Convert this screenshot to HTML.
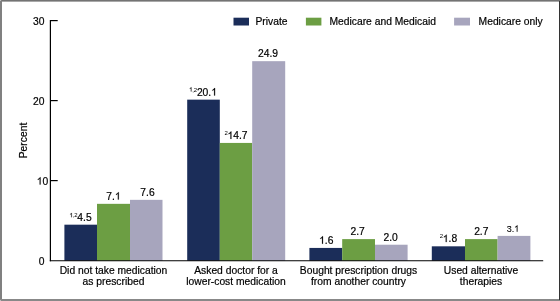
<!DOCTYPE html>
<html><head><meta charset="utf-8"><style>
html,body{margin:0;padding:0;background:#fff;}
body{width:560px;height:301px;overflow:hidden;position:relative;}
svg{position:absolute;left:0;top:0;display:block;will-change:transform;}
text{font-family:"Liberation Sans",sans-serif;font-size:10.3px;fill:#000;stroke:#000;stroke-width:0.2px;}
.sup{font-size:6px;stroke-width:0;letter-spacing:-0.2px;}
.h{fill:none;stroke:none;}
</style></head><body>
<svg width="560" height="301" viewBox="0 0 560 301">
<!-- border -->
<rect x="0" y="0" width="560" height="1" fill="#737373"/>
<rect x="0" y="1" width="559" height="1" fill="#a8a8a8"/>
<rect x="0" y="0" width="2" height="301" fill="#808080"/>
<rect x="0" y="299" width="559" height="2" fill="#888888"/>
<rect x="559" y="1" width="1" height="299" fill="#333333"/>
<rect x="559" y="300" width="1" height="1" fill="#888888"/>
<rect x="0" y="0" width="1" height="1" fill="#c0c0c0"/>
<rect x="0" y="300" width="1" height="1" fill="#c0c0c0"/>

<!-- bars -->
<g fill="#1b2d59">
<rect x="64.4" y="224.68" width="32.6" height="36.07"/>
<rect x="187.2" y="99.65" width="32.6" height="161.10"/>
<rect x="309.4" y="247.93" width="32.8" height="12.82"/>
<rect x="431.8" y="246.32" width="33.2" height="14.43"/>
</g>
<g fill="#6c9e43">
<rect x="97" y="203.84" width="33" height="56.91"/>
<rect x="219.8" y="142.93" width="32.4" height="117.82"/>
<rect x="342.2" y="239.11" width="32.8" height="21.64"/>
<rect x="465" y="239.11" width="32.6" height="21.64"/>
</g>
<g fill="#a7a5bd">
<rect x="130" y="199.84" width="32.5" height="60.91"/>
<rect x="252.2" y="61.18" width="33" height="199.57"/>
<rect x="375" y="244.72" width="32.6" height="16.03"/>
<rect x="497.6" y="235.90" width="32.8" height="24.85"/>
</g>

<!-- axes -->
<g stroke="#000" stroke-width="1.2" fill="none">
<line x1="50.4" y1="20" x2="50.4" y2="261.2"/>
<line x1="50" y1="20.6" x2="57.7" y2="20.6"/>
<line x1="50" y1="100.6" x2="57.7" y2="100.6"/>
<line x1="50" y1="180.6" x2="57.7" y2="180.6"/>
</g>
<line x1="49.8" y1="260.7" x2="543.2" y2="260.7" stroke="#000" stroke-width="1.05"/>

<!-- y labels -->
<g text-anchor="end">
<text x="44.5" y="24.6">30</text>
<text x="44.5" y="104.6">20</text>
<text x="48.2" y="184.6"><tspan class="h">1</tspan>0</text>
<text x="44.5" y="264.6">0</text>
</g>
<text transform="translate(27,140.5) rotate(-90)" text-anchor="middle">Percent</text>

<!-- legend -->
<rect x="233.5" y="17.7" width="15.5" height="7.8" fill="#1b2d59"/>
<text x="255.5" y="24.6">Private</text>
<rect x="305.9" y="17.7" width="15.5" height="7.8" fill="#6c9e43"/>
<text x="329.5" y="24.6">Medicare and Medicaid</text>
<rect x="454.1" y="17.7" width="15.9" height="7.8" fill="#a7a5bd"/>
<text x="478.6" y="24.6">Medicare only</text>

<!-- data labels -->
<g text-anchor="middle">
<text x="80.6" y="221.2"><tspan class="sup" dy="-4"><tspan class="h">1</tspan>,2</tspan><tspan dy="4">4.5</tspan></text>
<text x="113.5" y="199.6">7.<tspan class="h">1</tspan></text>
<text x="147.5" y="196.1">7.6</text>
<text x="203.05" y="95.5"><tspan class="sup" dy="-4"><tspan class="h">1</tspan>,2</tspan><tspan dy="4">20.<tspan class="h">1</tspan></tspan></text>
<text x="236" y="138.9"><tspan class="sup" dy="-4">2</tspan><tspan dy="4"><tspan class="h">1</tspan>4.7</tspan></text>
<text x="268.05" y="57.3">24.9</text>
<text x="326.3" y="243.7"><tspan class="h">1</tspan>.6</text>
<text x="357.7" y="234.6">2.7</text>
<text x="390.6" y="240.5">2.0</text>
<text x="448.4" y="242.1"><tspan class="sup" dy="-4">2</tspan><tspan dy="4"><tspan class="h">1</tspan>.8</tspan></text>
<text x="481.3" y="234.9">2.7</text>
<text x="512.9" y="231.7" style="font-size:9px;stroke-width:0.1px">3.<tspan class="h">1</tspan></text>
</g>

<!-- category labels -->
<g text-anchor="middle">
<text x="113.5" y="274.3">Did not take medication</text>
<text x="113.5" y="284.8">as prescribed</text>
<text x="236" y="274.3">Asked doctor for a</text>
<text x="236" y="284.8">lower-cost medication</text>
<text x="358.5" y="274.3">Bought prescription drugs</text>
<text x="358.5" y="284.8">from another country</text>
<text x="481" y="274.3">Used alternative</text>
<text x="481" y="284.8">therapies</text>
</g>
<!-- ones -->
<g>
<path d="M583 0H763V-1472H646Q599-1377 486-1276Q373-1175 222-1104V-930Q306-961 412-1023Q518-1085 583-1147Z" fill="#000" stroke="#000" stroke-width="39.8" transform="translate(36.731,184.60) scale(0.005029)"/>
<path d="M583 0H763V-1472H646Q599-1377 486-1276Q373-1175 222-1104V-930Q306-961 412-1023Q518-1085 583-1147Z" fill="#000" stroke="#000" stroke-width="51.2" transform="translate(69.561,217.20) scale(0.002930)"/>
<path d="M583 0H763V-1472H646Q599-1377 486-1276Q373-1175 222-1104V-930Q306-961 412-1023Q518-1085 583-1147Z" fill="#000" stroke="#000" stroke-width="39.8" transform="translate(114.930,199.60) scale(0.005029)"/>
<path d="M583 0H763V-1472H646Q599-1377 486-1276Q373-1175 222-1104V-930Q306-961 412-1023Q518-1085 583-1147Z" fill="#000" stroke="#000" stroke-width="51.2" transform="translate(189.144,91.50) scale(0.002930)"/>
<path d="M583 0H763V-1472H646Q599-1377 486-1276Q373-1175 222-1104V-930Q306-961 412-1023Q518-1085 583-1147Z" fill="#000" stroke="#000" stroke-width="39.8" transform="translate(211.222,95.50) scale(0.005029)"/>
<path d="M583 0H763V-1472H646Q599-1377 486-1276Q373-1175 222-1104V-930Q306-961 412-1023Q518-1085 583-1147Z" fill="#000" stroke="#000" stroke-width="39.8" transform="translate(227.539,138.90) scale(0.005029)"/>
<path d="M583 0H763V-1472H646Q599-1377 486-1276Q373-1175 222-1104V-930Q306-961 412-1023Q518-1085 583-1147Z" fill="#000" stroke="#000" stroke-width="39.8" transform="translate(319.136,243.70) scale(0.005029)"/>
<path d="M583 0H763V-1472H646Q599-1377 486-1276Q373-1175 222-1104V-930Q306-961 412-1023Q518-1085 583-1147Z" fill="#000" stroke="#000" stroke-width="39.8" transform="translate(442.806,242.10) scale(0.005029)"/>
<path d="M583 0H763V-1472H646Q599-1377 486-1276Q373-1175 222-1104V-930Q306-961 412-1023Q518-1085 583-1147Z" fill="#000" stroke="#000" stroke-width="22.8" transform="translate(514.150,231.70) scale(0.004395)"/>
</g>
</svg>
</body></html>
